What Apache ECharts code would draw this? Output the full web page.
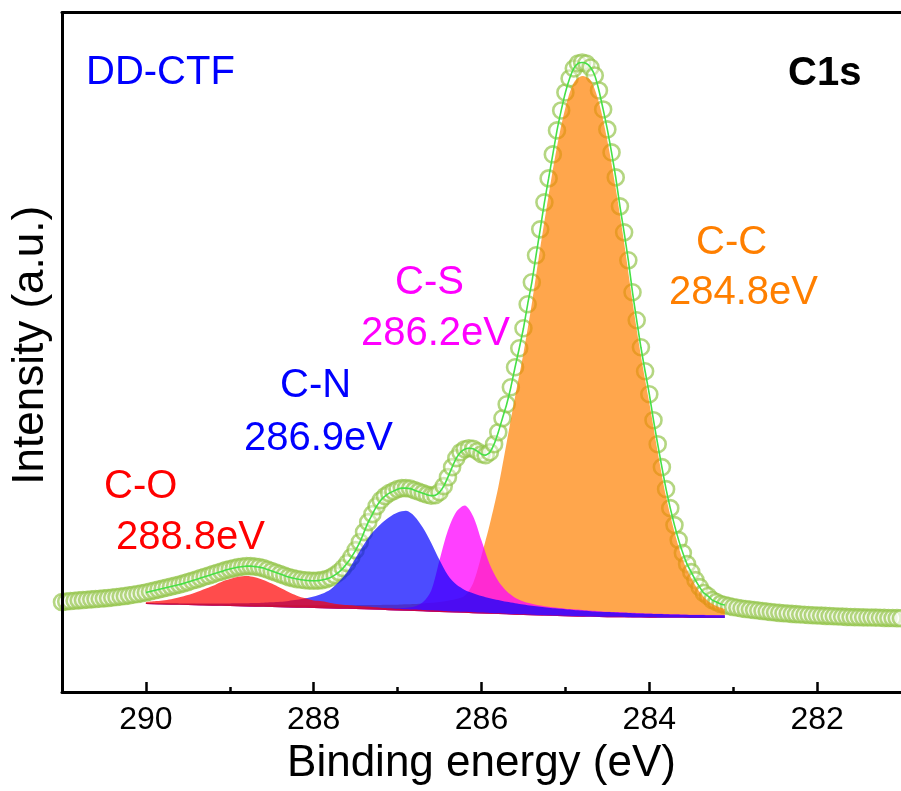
<!DOCTYPE html>
<html>
<head>
<meta charset="utf-8">
<script src="https://cdn.jsdelivr.net/npm/echarts@6/dist/echarts.min.js"></script>
<style>
  html, body { margin: 0; padding: 0; background: #fff; }
  #chart { width: 901px; height: 791px; }
</style>
</head>
<body>
<div id="chart"></div>
<script>
// ---------------- data ----------------
// measured spectrum (binding energy, eV) and intensity (a.u.)
const energy = [
  291.00,290.95,290.90,290.85,290.80,290.75,290.70,290.65,290.60,290.55,
  290.50,290.45,290.40,290.35,290.30,290.25,290.20,290.15,290.10,290.05,
  290.00,289.95,289.90,289.85,289.80,289.75,289.70,289.65,289.60,289.55,
  289.50,289.45,289.40,289.35,289.30,289.25,289.20,289.15,289.10,289.05,
  289.00,288.95,288.90,288.85,288.80,288.75,288.70,288.65,288.60,288.55,
  288.50,288.45,288.40,288.35,288.30,288.25,288.20,288.15,288.10,288.05,
  288.00,287.95,287.90,287.85,287.80,287.75,287.70,287.65,287.60,287.55,
  287.50,287.45,287.40,287.35,287.30,287.25,287.20,287.15,287.10,287.05,
  287.00,286.95,286.90,286.85,286.80,286.75,286.70,286.65,286.60,286.55,
  286.50,286.45,286.40,286.35,286.30,286.25,286.20,286.15,286.10,286.05,
  286.00,285.95,285.90,285.85,285.80,285.75,285.70,285.65,285.60,285.55,
  285.50,285.45,285.40,285.35,285.30,285.25,285.20,285.15,285.10,285.05,
  285.00,284.95,284.90,284.85,284.80,284.75,284.70,284.65,284.60,284.55,
  284.50,284.45,284.40,284.35,284.30,284.25,284.20,284.15,284.10,284.05,
  284.00,283.95,283.90,283.85,283.80,283.75,283.70,283.65,283.60,283.55,
  283.50,283.45,283.40,283.35,283.30,283.25,283.20,283.15,283.10,283.05,
  283.00,282.95,282.90,282.85,282.80,282.75,282.70,282.65,282.60,282.55,
  282.50,282.45,282.40,282.35,282.30,282.25,282.20,282.15,282.10,282.05,
  282.00,281.95,281.90,281.85,281.80,281.75,281.70,281.65,281.60,281.55,
  281.50,281.45,281.40,281.35,281.30,281.25,281.20,281.15,281.10,281.05,
  281.00
];
const counts = [
  90,90.5,91,91.3,91.7,92,92.3,92.7,93,93.3,
  93.7,94,94.5,95,95.5,96,96.7,97.3,98,98.8,
  99.5,100.5,101.5,102.5,103.5,104.5,105.5,106.5,107.5,108.7,
  110,111.3,112.5,114,115.3,116.5,118,119.3,120.5,122,
  123,124,125,125.5,126,126,125.5,125,124,122.5,
  121,119.5,118,116.5,115,114,113,112.3,111.8,111.5,
  111.3,111.5,112,113,114.5,117,120,124,129,135,
  142,150,160,170,178,186,192,196,199,201,
  203,204,204,203.5,202,200.5,199,197.5,196.5,197,
  200,206,215,225,234,240,243,244,243.5,241,
  238,237,240,248,260,274,288,305,325,344,
  364,388,410,437,463,490,514,538,562,582,
  600,614,624,629,630,629,625,617,602,583,
  563,540,515,486,460,432,400,372,345,321,
  298,272,248,225,203,184,167,152,139,128,
  120,112,105,99,96,92,90,88,87,86,
  85,84.3,83.6,83,82.5,82,81.5,81,80.5,80,
  79.6,79.2,78.8,78.5,78.2,77.9,77.6,77.3,77,76.8,
  76.6,76.4,76.2,76,75.8,75.6,75.4,75.2,75,74.9,
  74.8,74.7,74.6,74.5,74.4,74.3,74.2,74.1,74,73.9,
  73.8
];

// fitted region: energies, background and component heights above background
const fitEnergy = [
  290.0,289.9,289.8,289.7,289.6,289.5,289.4,289.3,289.2,289.1,
  289.0,288.9,288.8,288.7,288.6,288.5,288.4,288.3,288.2,288.1,
  288.0,287.9,287.8,287.7,287.6,287.5,287.4,287.3,287.2,287.1,
  287.0,286.9,286.8,286.7,286.6,286.5,286.4,286.3,286.2,286.1,
  286.0,285.9,285.8,285.7,285.6,285.5,285.4,285.3,285.2,285.1,
  285.0,284.9,284.8,284.7,284.6,284.5,284.4,284.3,284.2,284.1,
  284.0,283.9,283.8,283.7,283.6,283.5,283.4,283.3,283.2,283.1
];
const background = [
  88.0,87.8,87.6,87.4,87.2,87.0,86.8,86.6,86.4,86.2,
  86.0,85.8,85.6,85.4,85.2,85.0,84.8,84.6,84.4,84.2,
  84.0,83.8,83.6,83.4,83.2,83.0,82.8,82.5,82.2,81.9,
  81.6,81.3,81.0,80.7,80.4,80.1,79.8,79.5,79.2,78.9,
  78.6,78.3,78.0,77.7,77.4,77.1,76.8,76.5,76.2,76.0,
  75.8,75.6,75.4,75.2,75.0,74.9,74.8,74.7,74.6,74.5,
  74.4,74.3,74.3,74.2,74.2,74.1,74.1,74.0,74.0,74.0
];
const peakCO = [
  2,3,4,5.5,7.5,10,13,16.5,20,24,
  27,29.5,30.5,29.5,27,23.5,19.5,15.5,12,9.5,
  7.5,7,5.5,4.5,3.8,3.3,2.9,2.5,2.2,2,
  1.8,1.6,1.5,1.4,1.3,1.2,1.1,1,1,0.9,
  0.9,0.8,0.8,0.7,0.7,0.7,0.6,0.6,0.6,0.5,
  0.5,0.5,0.5,0.4,0.4,0.4,0.4,0.4,0.3,0.3,
  0.3,0.3,0.3,0.3,0.3,0.2,0.2,0.2,0.2,0.2
];
const peakCN = [
  1,1.1,1.2,1.3,1.4,1.5,1.7,1.9,2.1,2.3,
  2.6,2.9,3.2,3.6,4.1,4.7,5.5,6.5,7.8,9.5,
  11.5,14.5,19,27,37,51,65,77,86,93,
  98,100,95,84,69,52,37,28,23,20,
  17.5,15.5,14,12.5,11.5,10.5,9.5,8.8,8.1,7.5,
  7,6.5,6.1,5.7,5.4,5.1,4.8,4.5,4.3,4.1,
  3.9,3.7,3.5,3.3,3.1,3,2.9,2.8,2.7,2.6
];
const peakCS = [
  0.2,0.2,0.2,0.2,0.2,0.2,0.3,0.3,0.3,0.3,
  0.3,0.3,0.4,0.4,0.4,0.4,0.5,0.5,0.5,0.6,
  0.6,0.7,0.7,0.8,0.9,1,1.1,1.3,1.5,1.8,
  2.2,3,4.5,9,21,52,82,101,107.5,97,
  73,49,33,23,17,13.5,11.5,10,9,8.2,
  7.6,7.1,6.7,6.3,5.9,5.5,5.2,4.9,4.6,4.4,
  4.2,4,3.8,3.6,3.4,3.2,3.1,3,2.9,2.8
];
const peakCC = [
  1,1,1.1,1.1,1.2,1.2,1.3,1.4,1.5,1.5,
  1.6,1.7,1.8,1.9,2,2.1,2.2,2.3,2.5,2.6,
  2.8,3,3.2,3.4,3.6,3.9,4.2,4.5,4.9,5.3,
  5.8,6.4,7,7.8,8.8,10,11.5,13.5,17,30,
  58,90,127,172,218,262,312,368,421,470,
  509,534,541,537,515,477,429,375,316,262,
  215,166,121,86,58,40,26,17,12,9
];

// axis ticks
const xMajorTicks = [282, 284, 286, 288, 290];
const xMinorTicks = [283, 285, 287, 289];

// texts
const peakNames = ['C-C', 'C-S', 'C-N', 'C-O'];
const peakPositions = ['284.8eV', '286.2eV', '286.9eV', '288.8eV'];
const sampleName = 'DD-CTF';
const regionName = 'C1s';
const xTitle = 'Binding energy (eV)';
const yTitle = 'Intensity (a.u.)';

// ---------------- chart ----------------
const FONT = '"Liberation Sans", Arial, Helvetica, sans-serif';
const chart = echarts.init(document.getElementById('chart'), null, { renderer: 'canvas' });

const fillColors = {
  'C-C': 'rgba(255,128,0,0.7)',
  'C-S': 'rgba(255,0,255,0.75)',
  'C-N': 'rgba(0,0,255,0.7)',
  'C-O': 'rgba(255,0,0,0.7)'
};
const labelColors = { 'C-C': '#FF7F00', 'C-S': '#FF00FF', 'C-N': '#0000FF', 'C-O': '#FF0000' };
const peakData = { 'C-C': peakCC, 'C-S': peakCS, 'C-N': peakCN, 'C-O': peakCO };

// series are stacked on the intensity value (dimension 0), energy is dimension 1
const componentSeries = [];
peakNames.forEach(function (name) {
  componentSeries.push({
    name: name + ' background',
    type: 'line',
    stack: name,
    encode: { x: 1, y: 0 },
    data: fitEnergy.map(function (e, i) { return [background[i], e]; }),
    symbol: 'none',
    lineStyle: { width: 0, opacity: 0 },
    silent: true
  });
  componentSeries.push({
    name: name,
    type: 'line',
    stack: name,
    encode: { x: 1, y: 0 },
    data: fitEnergy.map(function (e, i) { return [peakData[name][i], e]; }),
    symbol: 'none',
    smooth: 0.3,
    lineStyle: { width: 0, opacity: 0 },
    areaStyle: { color: fillColors[name], opacity: 1 },
    silent: true
  });
});

const measured = energy.map(function (e, i) { return [e, counts[i]]; });
const envelope = measured.filter(function (p) { return p[0] <= fitEnergy[0] + 1e-9 && p[0] >= fitEnergy[fitEnergy.length - 1] - 1e-9; });

const graphicTexts = [
  { t: sampleName, x: 86, y: 73, c: '#0000FF', w: 'normal' },
  { t: regionName, x: 788, y: 74, c: '#000000', w: 'bold' },
  { t: peakNames[0], x: 696, y: 243, c: labelColors['C-C'], w: 'normal' },
  { t: peakPositions[0], x: 669, y: 293, c: labelColors['C-C'], w: 'normal' },
  { t: peakNames[1], x: 395, y: 283, c: labelColors['C-S'], w: 'normal' },
  { t: peakPositions[1], x: 361, y: 334, c: labelColors['C-S'], w: 'normal' },
  { t: peakNames[2], x: 280, y: 386, c: labelColors['C-N'], w: 'normal' },
  { t: peakPositions[2], x: 244, y: 439, c: labelColors['C-N'], w: 'normal' },
  { t: peakNames[3], x: 104, y: 487, c: labelColors['C-O'], w: 'normal' },
  { t: peakPositions[3], x: 116, y: 538, c: labelColors['C-O'], w: 'normal' }
].map(function (g) {
  return {
    type: 'text',
    x: g.x,
    y: g.y,
    z: 100,
    silent: true,
    style: {
      text: g.t,
      fill: g.c,
      fontSize: 40,
      fontWeight: g.w,
      fontFamily: FONT,
      align: 'left',
      verticalAlign: 'middle'
    }
  };
});

const axisCommon = { type: 'value', min: 281, max: 291, inverse: true, splitLine: { show: false } };

const option = {
  animation: false,
  backgroundColor: '#ffffff',
  grid: { left: 62, right: -7, top: 12.5, bottom: 98.5, containLabel: false },
  xAxis: [
    Object.assign({}, axisCommon, {
      position: 'bottom',
      name: xTitle,
      nameLocation: 'middle',
      nameGap: 50,
      nameTextStyle: { fontSize: 44, color: '#000', fontFamily: FONT },
      axisLine: { show: true, onZero: false, lineStyle: { color: '#000', width: 3 } },
      axisTick: { show: true, inside: true, length: 10, customValues: xMajorTicks, lineStyle: { color: '#000', width: 2.5 } },
      axisLabel: { show: true, customValues: xMajorTicks, fontSize: 32, color: '#000', fontFamily: FONT, margin: 12 },
      z: 10
    }),
    Object.assign({}, axisCommon, {
      position: 'bottom',
      axisLine: { show: false, onZero: false },
      axisTick: { show: true, inside: true, length: 5, customValues: xMinorTicks, lineStyle: { color: '#000', width: 2.5 } },
      axisLabel: { show: false },
      z: 10
    }),
    Object.assign({}, axisCommon, {
      position: 'top',
      axisLine: { show: true, onZero: false, lineStyle: { color: '#000', width: 3 } },
      axisTick: { show: false },
      axisLabel: { show: false },
      z: 10
    })
  ],
  yAxis: {
    type: 'value',
    min: 0,
    max: 680,
    position: 'left',
    name: yTitle,
    nameLocation: 'middle',
    nameGap: 9,
    nameTextStyle: { fontSize: 44, color: '#000', fontFamily: FONT, padding: [0, 0, 0, 14] },
    axisLine: { show: true, onZero: false, lineStyle: { color: '#000', width: 3 } },
    axisTick: { show: false },
    axisLabel: { show: false },
    splitLine: { show: false },
    z: 10
  },
  graphic: graphicTexts,
  series: componentSeries.concat([
    {
      name: 'Envelope',
      type: 'line',
      data: envelope,
      symbol: 'none',
      smooth: 0.2,
      lineStyle: { color: '#46E046', width: 1.6 },
      silent: true
    },
    {
      name: 'Measured',
      type: 'scatter',
      data: measured,
      symbol: 'circle',
      symbolSize: 16,
      itemStyle: { color: 'rgba(255,255,255,0.5)', borderColor: 'rgba(145,195,70,0.85)', borderWidth: 2.6 },
      silent: true
    }
  ])
};
chart.setOption(option);
</script>
</body>
</html>
